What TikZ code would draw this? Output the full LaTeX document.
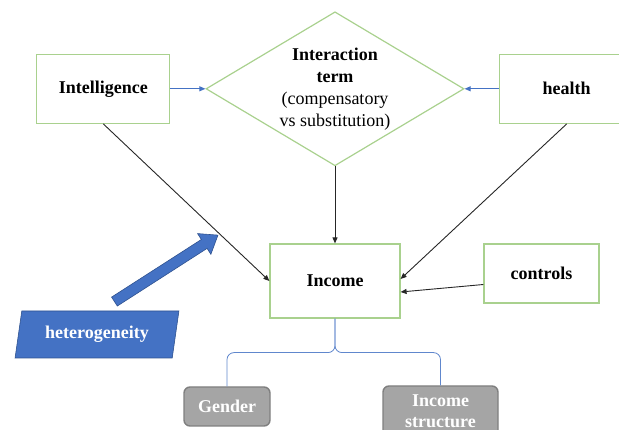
\documentclass[tikz,border=0pt]{standalone}
\usepackage{fontspec}
\setmainfont{Liberation Serif}
\usetikzlibrary{arrows.meta, calc, positioning, shapes.geometric, shapes.arrows}
\definecolor{boxgreen}{RGB}{169,209,142}
\definecolor{linkblue}{RGB}{68,114,196}
\definecolor{edgeblue}{RGB}{47,82,143}
\definecolor{tagfill}{RGB}{165,165,165}
\definecolor{tagline}{RGB}{127,127,127}

\begin{document}
\begin{tikzpicture}[x=1pt, y=1pt,
            box/.style={draw=boxgreen, line width=1.2pt, minimum height=69pt, align=center, font=\fontsize{18}{22}\selectfont\bfseries},
            tag/.style={draw=tagline, fill=tagfill, line width=1.4pt, rounded corners=6pt, align=center, text=white, font=\fontsize{18}{21}\selectfont\bfseries},
            hetbox/.style={trapezium, trapezium left angle=78, trapezium right angle=102, trapezium stretches=true, draw=edgeblue, line width=0.6pt, fill=linkblue, minimum width=164pt, minimum height=47pt, text=white, font=\fontsize{18}{22}\selectfont\bfseries},
            bigarrow/.style={single arrow, draw=edgeblue, line width=0.6pt, fill=linkblue, inner sep=5pt, single arrow head extend=7pt, single arrow tip angle=74},
            feed/.style={linkblue, line width=0.8pt, -{Triangle[length=6pt, width=5pt]}},
            link/.style={black!85, line width=0.9pt, -{Triangle[length=6pt, width=5pt]}},
            brace/.style={linkblue!85, line width=0.8pt, rounded corners=7pt}
        ]
            \path[use as bounding box, clip] (0,0) rectangle (619,-430);

            \node[box, minimum width=130pt, minimum height=74pt] (income) at (335,-281) {Income};
            \node[diamond, draw=boxgreen, line width=1.2pt, aspect=1.675, inner sep=0pt, minimum width=258pt, minimum height=154pt, align=center, font=\fontsize{18}{22}\selectfont, above=77pt of income] (inter) {\textbf{Interaction}\\\textbf{term}\\(compensatory\\vs substitution)};
            \node[box, minimum width=133pt, left=35pt of inter] (intel) {Intelligence};
            \node[box, minimum width=135pt, right=34pt of inter] (health) {health};
            \node[box, minimum width=115pt, minimum height=59pt] (controls) at (541.5,-273.5) {controls};
            \node[hetbox] (hetero) at (97,-334.5) {heterogeneity};
            \node[tag, minimum width=86pt, minimum height=39pt] (gender) at (227,-406.5) {Gender};
            \node[tag, minimum width=115pt, minimum height=50pt] (incstruct) at (440.5,-411) {Income\\structure};

            \coordinate (htail) at (111.5,-303.5);
            \coordinate (htip) at (215,-237);
            \node[bigarrow, minimum height=123pt, rotate=32.7] (push) at ($(htail)!0.5!(htip)$) {};

            % Connections
            \draw[feed] (intel) -- (inter);
            \draw[feed] (health) -- (inter);
            \draw[link] (intel.south) -- (income.west);
            \draw[link] (inter.south) -- (income.north);
            \draw[link] (health.south) -- ([yshift=2pt]income.east);
            \draw[link] ([yshift=-11pt]controls.west) -- ([yshift=-11pt]income.east);

            % Brace
            \draw[brace] (gender.north) |- ([yshift=-34pt]income.south) -- (income.south);
            \draw[brace] (incstruct.north) |- ([yshift=-34pt]income.south) -- (income.south);
        \end{tikzpicture}
\end{document}
